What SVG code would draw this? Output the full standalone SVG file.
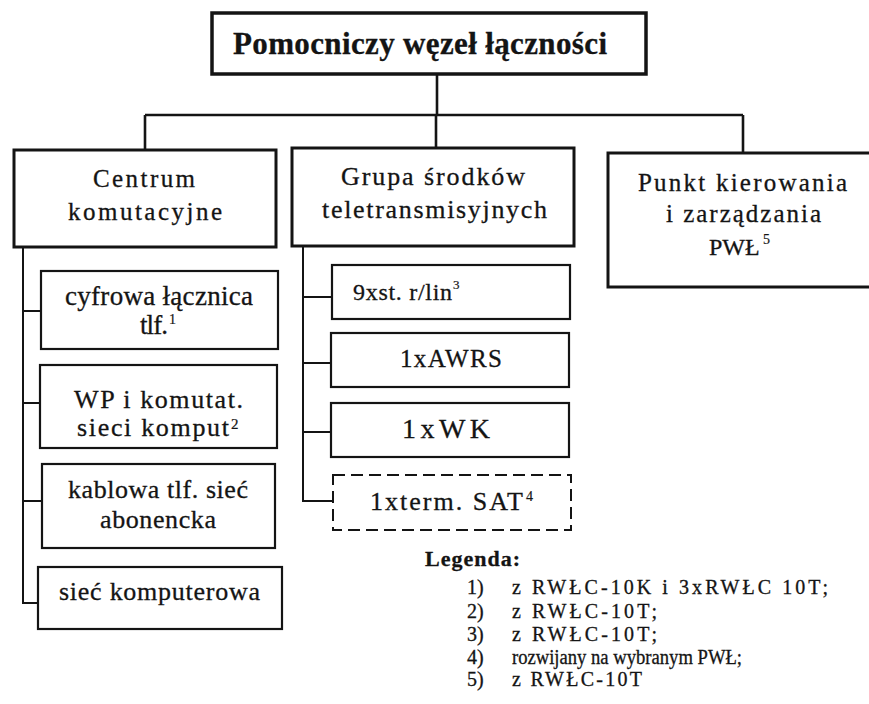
<svg xmlns="http://www.w3.org/2000/svg" width="869" height="704" viewBox="0 0 869 704">
  <style>
    .bg { fill: #ffffff; }
    .main { fill: #ffffff; stroke: #141414; stroke-width: 3; }
    .top { fill: #ffffff; stroke: #141414; stroke-width: 3.5; }
    .sub { fill: #ffffff; stroke: #141414; stroke-width: 2.2; }
    .dash { fill: #ffffff; stroke: #141414; stroke-width: 2; stroke-dasharray: 12 6; }
    .wire { fill: none; stroke: #141414; stroke-width: 2.6; }
    .twig { fill: none; stroke: #141414; stroke-width: 2; }
    text { font-family: "Liberation Serif", "Times New Roman", serif; fill: #141414; stroke: #141414; stroke-width: 0.3; }
    .title { font-size: 31px; font-weight: bold; }
    .t24 { font-size: 24px; }
    .t25 { font-size: 25px; }
    .t26 { font-size: 26px; }
    .t27 { font-size: 27px; }
    .t28 { font-size: 28px; }
    .sup { font-size: 14px; stroke-width: 0.2; }
    .leg { font-size: 20px; }
    .legh { font-size: 22px; font-weight: bold; }
  </style>

  <rect class="bg" x="0" y="0" width="869" height="704"/>

  <!-- connectors -->
  <g id="connectors">
    <path class="wire" d="M437 74 V115 M145 115 H743 M145 115 V150 M436 115 V148 M743 115 V153"/>
    <path class="twig" d="M23 247 V603 H38 M23 311 H41 M23 403 H40 M23 501 H42"/>
    <path class="twig" d="M303 246 V501 H333 M303 297 H332 M303 363 H331 M303 432 H331"/>
  </g>

  <!-- root node -->
  <g id="node-pwl">
    <rect class="top" x="212" y="13" width="434" height="61"/>
    <text class="title" x="233" y="54" textLength="374" lengthAdjust="spacing">Pomocniczy węzeł łączności</text>
  </g>

  <!-- second level -->
  <g id="node-centrum">
    <rect class="main" x="14" y="150" width="262" height="97"/>
    <text class="t25" x="93" y="187" textLength="102" lengthAdjust="spacing">Centrum</text>
    <text class="t25" x="68" y="220" textLength="154" lengthAdjust="spacing">komutacyjne</text>
  </g>
  <g id="node-grupa">
    <rect class="main" x="292" y="148" width="282" height="98"/>
    <text class="t26" x="341" y="185" textLength="184" lengthAdjust="spacing">Grupa środków</text>
    <text class="t26" x="322" y="218" textLength="225" lengthAdjust="spacing">teletransmisyjnych</text>
  </g>
  <g id="node-punkt">
    <rect class="main" x="608" y="153" width="280" height="134"/>
    <text class="t25" x="638" y="191" textLength="209" lengthAdjust="spacing">Punkt kierowania</text>
    <text class="t25" x="666" y="222" textLength="155" lengthAdjust="spacing">i zarządzania</text>
    <text class="t24" x="709" y="255">PWŁ</text>
    <text class="sup" x="763" y="244">5</text>
  </g>

  <!-- switching centre items -->
  <g id="node-lacznica">
    <rect class="sub" x="41" y="271" width="237" height="78"/>
    <text class="t27" x="65" y="305" textLength="188" lengthAdjust="spacing">cyfrowa łącznica</text>
    <text class="t27" x="140" y="334" textLength="28" lengthAdjust="spacing">tlf.</text>
    <text class="sup" x="169" y="324">1</text>
  </g>
  <g id="node-wp">
    <rect class="sub" x="40" y="365" width="237" height="83"/>
    <text class="t26" x="74" y="408" textLength="169" lengthAdjust="spacing">WP i komutat.</text>
    <text class="t26" x="77" y="436" textLength="152" lengthAdjust="spacing">sieci komput</text>
    <text class="sup" x="231" y="429" style="font-size:15px">2</text>
  </g>
  <g id="node-kablowa">
    <rect class="sub" x="42" y="464" width="233" height="84"/>
    <text class="t26" x="68" y="498" textLength="180" lengthAdjust="spacing">kablowa tlf. sieć</text>
    <text class="t26" x="100" y="528" textLength="116" lengthAdjust="spacing">abonencka</text>
  </g>
  <g id="node-siec">
    <rect class="sub" x="38" y="567" width="244" height="62"/>
    <text class="t26" x="59" y="600" textLength="201" lengthAdjust="spacing">sieć komputerowa</text>
  </g>

  <!-- transmission group items -->
  <g id="node-radiolinie">
    <rect class="sub" x="332" y="265" width="238" height="54"/>
    <text class="t24" x="353" y="300" textLength="99" lengthAdjust="spacing">9xst. r/lin</text>
    <text class="sup" x="453" y="289" style="font-size:13px">3</text>
  </g>
  <g id="node-awrs">
    <rect class="sub" x="331" y="333" width="238" height="54"/>
    <text class="t25" x="400" y="367" textLength="102" lengthAdjust="spacing">1xAWRS</text>
  </g>
  <g id="node-wk">
    <rect class="sub" x="331" y="403" width="238" height="54"/>
    <text class="t28" x="402" y="438" textLength="88" lengthAdjust="spacing">1xWK</text>
  </g>
  <g id="node-sat">
    <rect class="dash" x="333" y="475" width="238" height="55"/>
    <text class="t26" x="370" y="510" textLength="153" lengthAdjust="spacing">1xterm. SAT</text>
    <text class="sup" x="526" y="501">4</text>
  </g>

  <!-- legend -->
  <g id="legend">
    <text class="legh" x="425" y="566" textLength="95" lengthAdjust="spacing">Legenda:</text>
    <text class="leg" x="467" y="594">1)</text>
    <text class="leg" x="512" y="594" textLength="316" lengthAdjust="spacing">z  RWŁC-10K i 3xRWŁC 10T;</text>
    <text class="leg" x="467" y="618">2)</text>
    <text class="leg" x="512" y="618" textLength="145" lengthAdjust="spacing">z RWŁC-10T;</text>
    <text class="leg" x="467" y="641">3)</text>
    <text class="leg" x="512" y="641" textLength="145" lengthAdjust="spacing">z RWŁC-10T;</text>
    <text class="leg" x="467" y="664">4)</text>
    <text class="leg" x="512" y="664" textLength="230" lengthAdjust="spacingAndGlyphs">rozwijany na wybranym PWŁ;</text>
    <text class="leg" x="467" y="686">5)</text>
    <text class="leg" x="512" y="686" textLength="130" lengthAdjust="spacing">z RWŁC-10T</text>
  </g>
</svg>
